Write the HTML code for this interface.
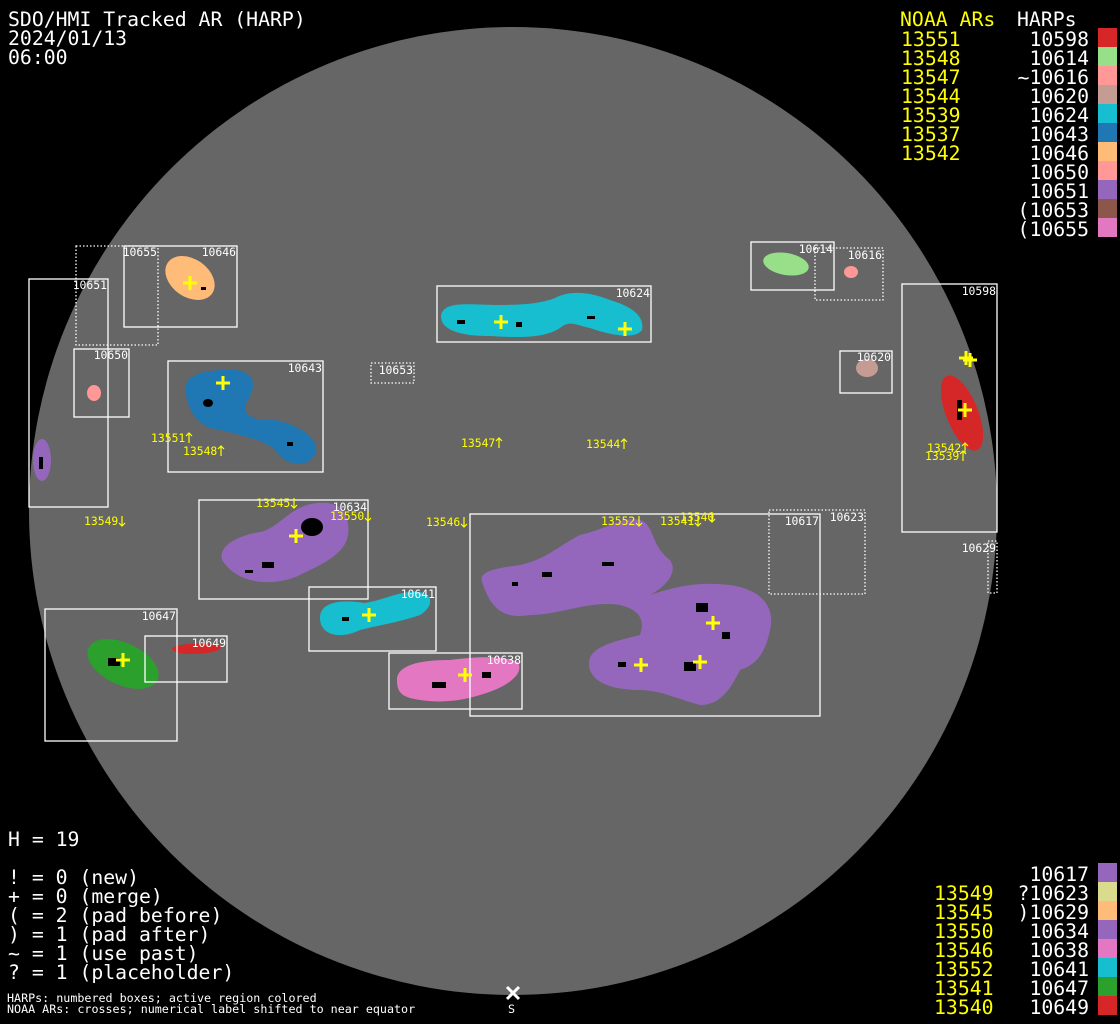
<!DOCTYPE html>
<html><head><meta charset="utf-8"><style>
html,body{margin:0;padding:0;background:#000;width:1120px;height:1024px;overflow:hidden}
svg{display:block}
text{font-family:"DejaVu Sans Mono","Liberation Mono",monospace}
.big{font-size:19.8px}
.sm{font-size:11.4px}
.w{fill:#fff}.y{fill:#ffff00}
.bx{fill:none;stroke:#fff;stroke-width:1.3}
.dt{fill:none;stroke:#fff;stroke-width:1.3;stroke-dasharray:1.5 2}
.cr{stroke:#ffff00;stroke-width:3}
.ar{stroke:#ffff00;stroke-width:1.2;fill:none}
</style></head><body>
<svg width="1120" height="1024" viewBox="0 0 1120 1024">
<rect width="1120" height="1024" fill="#000"/>
<circle cx="513" cy="511" r="484" fill="#666"/>

<!-- blobs -->
<ellipse cx="190" cy="278" rx="27" ry="19" transform="rotate(35 190 278)" fill="#ffbb78"/>
<ellipse cx="94" cy="393" rx="7" ry="8" fill="#ff9896"/>
<ellipse cx="42" cy="460" rx="9" ry="21" fill="#9467bd"/>
<path d="M186,395 C180,375 205,370 225,370 C250,368 262,380 245,405 C245,418 255,420 275,420 C300,425 322,440 315,455 C305,470 285,465 275,450 C265,440 240,435 220,430 C200,428 190,415 186,395Z" fill="#1f77b4"/>
<path d="M441,315 C445,300 470,305 500,305 C530,305 545,302 555,298 C570,290 590,292 610,300 C630,306 645,315 642,330 C635,340 610,335 590,328 C575,325 570,320 560,328 C545,338 520,338 490,336 C460,336 440,330 441,315Z" fill="#17becf"/>
<ellipse cx="786" cy="264" rx="23" ry="11" transform="rotate(10 786 264)" fill="#98df8a"/>
<ellipse cx="851" cy="272" rx="7" ry="6" fill="#ff9896"/>
<ellipse cx="867" cy="368" rx="11" ry="9" fill="#c49c94"/>
<ellipse cx="962" cy="413" rx="16" ry="40" transform="rotate(-22 962 413)" fill="#d62728"/>
<path d="M222,560 C218,545 240,535 260,532 C280,528 290,505 318,503 C345,500 350,520 348,535 C345,555 320,565 300,575 C280,585 240,588 222,560Z" fill="#9467bd"/>
<path d="M482,582 C478,570 500,568 520,565 C545,560 560,545 580,535 C610,528 625,515 640,520 C655,525 650,545 670,560 C680,575 660,590 650,595 C680,585 700,582 730,585 C765,590 775,610 770,630 C765,655 755,665 740,670 C730,690 720,705 700,705 C680,700 660,690 640,690 C600,690 585,675 590,658 C595,645 620,640 640,635 C645,620 640,610 620,605 C590,600 560,615 530,615 C500,620 490,605 482,582Z" fill="#9467bd"/>
<path d="M320,618 C320,600 345,600 365,603 C385,600 400,590 420,592 C435,595 432,608 420,615 C400,622 380,625 360,630 C340,640 320,635 320,618Z" fill="#17becf"/>
<path d="M397,680 C397,665 420,660 450,660 C480,656 505,656 518,662 C525,675 505,688 480,695 C455,703 430,703 410,698 C400,695 397,690 397,680Z" fill="#e377c2"/>
<ellipse cx="123" cy="664" rx="38" ry="21" transform="rotate(25 123 664)" fill="#2ca02c"/>
<path d="M172,648 C180,643 200,643 222,645 C223,652 205,654 190,654 C180,654 172,652 172,648Z" fill="#d62728"/>

<!-- dark specks -->
<g fill="#000">
<ellipse cx="312" cy="527" rx="11" ry="9"/>
<ellipse cx="208" cy="403" rx="5" ry="4"/>
<rect x="262" y="562" width="12" height="6"/><rect x="245" y="570" width="8" height="3"/>
<rect x="457" y="320" width="8" height="4"/><rect x="516" y="322" width="6" height="5"/><rect x="587" y="316" width="8" height="3"/>
<rect x="957" y="400" width="5" height="20"/>
<rect x="432" y="682" width="14" height="6"/><rect x="482" y="672" width="9" height="6"/>
<rect x="108" y="658" width="12" height="8"/><rect x="542" y="572" width="10" height="5"/><rect x="602" y="562" width="12" height="4"/>
<rect x="696" y="603" width="12" height="9"/><rect x="722" y="632" width="8" height="7"/><rect x="684" y="662" width="12" height="9"/>
<rect x="618" y="662" width="8" height="5"/><rect x="512" y="582" width="6" height="4"/><rect x="342" y="617" width="7" height="4"/>
<rect x="39" y="457" width="4" height="12"/><rect x="287" y="442" width="6" height="4"/><rect x="201" y="287" width="5" height="3"/>
</g>

<!-- boxes -->
<rect class="bx" x="29" y="279" width="79" height="228"/>
<rect class="dt" x="76" y="246" width="82" height="99"/>
<rect class="bx" x="124" y="246" width="113" height="81"/>
<rect class="bx" x="74" y="349" width="55" height="68"/>
<rect class="bx" x="168" y="361" width="155" height="111"/>
<rect class="dt" x="371" y="363" width="43" height="20"/>
<rect class="bx" x="437" y="286" width="214" height="56"/>
<rect class="bx" x="751" y="242" width="83" height="48"/>
<rect class="dt" x="815" y="248" width="68" height="52"/>
<rect class="bx" x="840" y="351" width="52" height="42"/>
<rect class="bx" x="902" y="284" width="95" height="248"/>
<rect class="dt" x="988" y="541" width="9" height="52"/>
<rect class="bx" x="199" y="500" width="169" height="99"/>
<rect class="bx" x="470" y="514" width="350" height="202"/>
<rect class="dt" x="769" y="510" width="96" height="84"/>
<rect class="bx" x="309" y="587" width="127" height="64"/>
<rect class="bx" x="389" y="653" width="133" height="56"/>
<rect class="bx" x="45" y="609" width="132" height="132"/>
<rect class="bx" x="145" y="636" width="82" height="46"/>

<g class="sm w" text-anchor="end">
<text x="107" y="289">10651</text><text x="157" y="256">10655</text><text x="236" y="256">10646</text>
<text x="128" y="359">10650</text><text x="322" y="372">10643</text><text x="413" y="374">10653</text>
<text x="650" y="297">10624</text><text x="833" y="253">10614</text><text x="882" y="259">10616</text>
<text x="891" y="361">10620</text><text x="996" y="295">10598</text><text x="996" y="552">10629</text>
<text x="367" y="511">10634</text><text x="819" y="525">10617</text><text x="864" y="521">10623</text>
<text x="435" y="598">10641</text><text x="521" y="664">10638</text><text x="176" y="620">10647</text><text x="226" y="647">10649</text>
</g>

<g class="sm y">
<text x="151" y="442">13551</text><text x="183" y="455">13548</text><text x="461" y="447">13547</text>
<text x="586" y="448">13544</text><text x="927" y="452">13542</text><text x="925" y="460">13539</text>
<text x="84" y="525">13549</text><text x="256" y="507">13545</text><text x="330" y="520">13550</text>
<text x="426" y="526">13546</text><text x="601" y="525">13552</text><text x="660" y="525">13541</text><text x="680" y="521">13540</text>
</g>
<g class="ar">
<path d="M189,443v-10M186,436l3,-3l3,3"/><path d="M221,456v-10M218,449l3,-3l3,3"/>
<path d="M499,448v-10M496,441l3,-3l3,3"/><path d="M624,449v-10M621,442l3,-3l3,3"/>
<path d="M965,453v-10M962,446l3,-3l3,3"/><path d="M963,461v-10M960,454l3,-3l3,3"/>
<path d="M122,516v10M119,523l3,3l3,-3"/><path d="M294,498v10M291,505l3,3l3,-3"/>
<path d="M368,511v10M365,518l3,3l3,-3"/><path d="M464,517v10M461,524l3,3l3,-3"/>
<path d="M639,516v10M636,523l3,3l3,-3"/><path d="M698,516v10M695,523l3,3l3,-3"/>
<path d="M712,512v10M709,519l3,3l3,-3"/>
</g>

<g class="cr">
<path d="M183,283h14M190,276v14"/><path d="M216,383h14M223,376v14"/><path d="M494,322h14M501,315v14"/>
<path d="M618,329h14M625,322v14"/><path d="M959,358h14M966,351v14"/><path d="M963,360h14M970,353v14"/>
<path d="M958,410h14M965,403v14"/><path d="M289,536h14M296,529v14"/><path d="M362,615h14M369,608v14"/>
<path d="M116,660h14M123,653v14"/><path d="M458,675h14M465,668v14"/><path d="M706,623h14M713,616v14"/>
<path d="M634,665h14M641,658v14"/><path d="M693,662h14M700,655v14"/>
</g>

<!-- header -->
<g class="big w">
<text x="8" y="26">SDO/HMI Tracked AR (HARP)</text>
<text x="8" y="45">2024/01/13</text>
<text x="8" y="64">06:00</text>
</g>
<text class="big y" x="900" y="26">NOAA ARs</text>
<text class="big w" x="1017" y="26">HARPs</text>
<g class="big y">
<text x="901" y="46">13551</text><text x="901" y="65">13548</text><text x="901" y="84">13547</text>
<text x="901" y="103">13544</text><text x="901" y="122">13539</text><text x="901" y="141">13537</text><text x="901" y="160">13542</text>
</g>
<g class="big w" text-anchor="end">
<text x="1089" y="46">10598</text><text x="1089" y="65">10614</text><text x="1089" y="84">~10616</text>
<text x="1089" y="103">10620</text><text x="1089" y="122">10624</text><text x="1089" y="141">10643</text>
<text x="1089" y="160">10646</text><text x="1089" y="179">10650</text><text x="1089" y="198">10651</text>
<text x="1089" y="217">(10653</text><text x="1089" y="236">(10655</text>
</g>
<g>
<rect x="1098" y="28" width="19" height="19" fill="#d62728"/>
<rect x="1098" y="47" width="19" height="19" fill="#98df8a"/>
<rect x="1098" y="66" width="19" height="19" fill="#ff9896"/>
<rect x="1098" y="85" width="19" height="19" fill="#c49c94"/>
<rect x="1098" y="104" width="19" height="19" fill="#17becf"/>
<rect x="1098" y="123" width="19" height="19" fill="#1f77b4"/>
<rect x="1098" y="142" width="19" height="19" fill="#ffbb78"/>
<rect x="1098" y="161" width="19" height="19" fill="#ff9896"/>
<rect x="1098" y="180" width="19" height="19" fill="#9467bd"/>
<rect x="1098" y="199" width="19" height="19" fill="#8c564b"/>
<rect x="1098" y="218" width="19" height="19" fill="#e377c2"/>
</g>

<!-- lower left -->
<g class="big w">
<text x="8" y="846">H = 19</text>
<text x="8" y="884">! = 0 (new)</text>
<text x="8" y="903">+ = 0 (merge)</text>
<text x="8" y="922">( = 2 (pad before)</text>
<text x="8" y="941">) = 1 (pad after)</text>
<text x="8" y="960">~ = 1 (use past)</text>
<text x="8" y="979">? = 1 (placeholder)</text>
</g>
<g class="w" style="font-size:11.7px">
<text x="7" y="1002">HARPs: numbered boxes; active region colored</text>
<text x="7" y="1013">NOAA ARs: crosses; numerical label shifted to near equator</text>
<text x="508" y="1013">S</text>
</g>
<path d="M507,987l12,12M519,987l-12,12" stroke="#fff" stroke-width="3"/>

<!-- lower right -->
<g class="big y">
<text x="934" y="900">13549</text><text x="934" y="919">13545</text><text x="934" y="938">13550</text>
<text x="934" y="957">13546</text><text x="934" y="976">13552</text><text x="934" y="995">13541</text><text x="934" y="1014">13540</text>
</g>
<g class="big w" text-anchor="end">
<text x="1089" y="881">10617</text><text x="1089" y="900">?10623</text><text x="1089" y="919">)10629</text>
<text x="1089" y="938">10634</text><text x="1089" y="957">10638</text><text x="1089" y="976">10641</text>
<text x="1089" y="995">10647</text><text x="1089" y="1014">10649</text>
</g>
<g>
<rect x="1098" y="863" width="19" height="19" fill="#9467bd"/>
<rect x="1098" y="882" width="19" height="19" fill="#dbdb8d"/>
<rect x="1098" y="901" width="19" height="19" fill="#ffbb78"/>
<rect x="1098" y="920" width="19" height="19" fill="#9467bd"/>
<rect x="1098" y="939" width="19" height="19" fill="#e377c2"/>
<rect x="1098" y="958" width="19" height="19" fill="#17becf"/>
<rect x="1098" y="977" width="19" height="19" fill="#2ca02c"/>
<rect x="1098" y="996" width="19" height="19" fill="#d62728"/>
</g>
</svg>
</body></html>
